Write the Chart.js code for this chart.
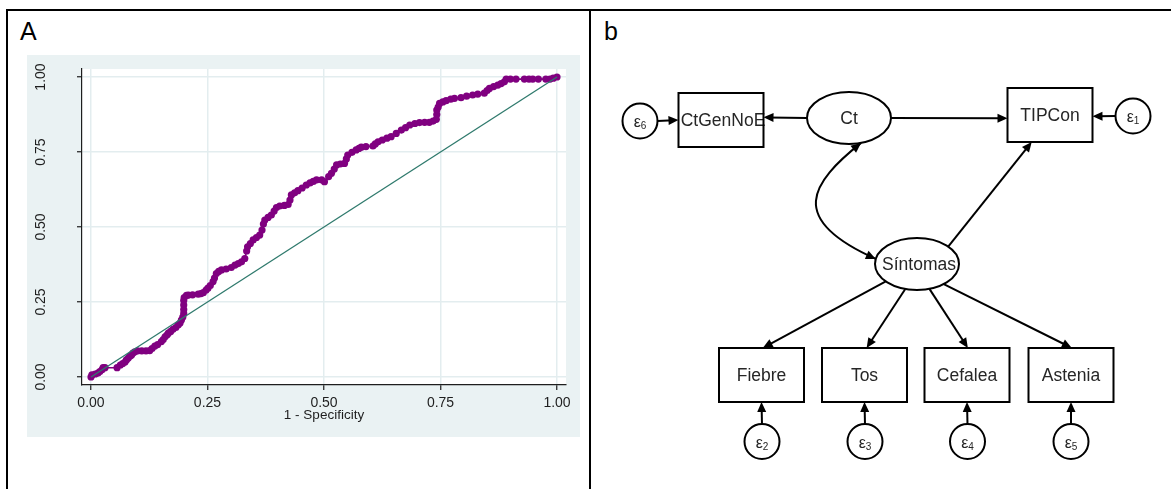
<!DOCTYPE html>
<html>
<head>
<meta charset="utf-8">
<script src="https://cdn.jsdelivr.net/npm/chart.js@4.4.1/dist/chart.umd.min.js"></script>
<style>
html,body{margin:0;padding:0;background:#fff;}
body{width:1171px;height:489px;position:relative;overflow:hidden;font-family:"Liberation Sans",Arial,sans-serif;}
.rule{position:absolute;background:#000;}
.tag{position:absolute;font-size:25px;line-height:25px;color:#000;}
#rocBox{position:absolute;left:27px;top:55px;width:553px;height:382px;background:#eaf2f3;}
#pathBox{position:absolute;left:591px;top:11px;width:580px;height:478px;}
canvas{display:block;}
</style>
</head>
<body>
<div class="rule" style="left:6px;top:9px;width:1165px;height:2px"></div>
<div class="rule" style="left:6px;top:9px;width:2px;height:480px"></div>
<div class="rule" style="left:589px;top:9px;width:2px;height:480px"></div>
<div class="tag" style="left:20px;top:19px">A</div>
<div class="tag" style="left:604px;top:19px">b</div>
<div id="rocBox"><canvas id="roc" width="553" height="382"></canvas></div>
<div id="pathBox"><canvas id="path" width="580" height="478"></canvas></div>

<script>
/* ---------- data: panel A, ROC curve ---------- */
const fpr  = [0,0.002,0.009,0.015,0.019,0.024,0.026,0.03,0.056,0.063,0.068,0.073,0.076,0.08,0.084,0.087,0.09,0.094,0.1,0.109,
  0.118,0.126,0.131,0.137,0.143,0.151,0.155,0.159,0.163,0.166,0.171,0.176,0.182,0.187,0.191,0.194,0.197,0.199,0.199,0.199,
  0.199,0.2,0.205,0.209,0.218,0.23,0.236,0.241,0.247,0.251,0.256,0.262,0.265,0.269,0.274,0.28,0.29,0.301,0.309,0.316,
  0.323,0.33,0.334,0.336,0.342,0.348,0.355,0.362,0.367,0.37,0.373,0.38,0.387,0.393,0.398,0.405,0.415,0.423,0.427,0.43,
  0.437,0.444,0.453,0.462,0.47,0.477,0.484,0.495,0.501,0.51,0.516,0.522,0.527,0.535,0.544,0.548,0.551,0.56,0.569,0.575,
  0.58,0.59,0.605,0.61,0.616,0.625,0.635,0.644,0.655,0.666,0.675,0.684,0.695,0.705,0.716,0.726,0.734,0.741,0.742,0.742,
  0.745,0.748,0.755,0.762,0.772,0.78,0.794,0.806,0.819,0.83,0.844,0.85,0.855,0.864,0.873,0.88,0.887,0.891,0.9,0.912,
  0.93,0.94,0.948,0.96,0.976,0.985,0.992,1];
const sens = [0,0.007,0.01,0.013,0.018,0.025,0.031,0.031,0.031,0.04,0.045,0.05,0.057,0.063,0.07,0.073,0.08,0.084,0.087,0.087,
  0.087,0.088,0.095,0.103,0.108,0.118,0.125,0.134,0.14,0.146,0.152,0.159,0.165,0.173,0.18,0.19,0.2,0.212,0.225,0.24,
  0.255,0.265,0.272,0.273,0.274,0.276,0.278,0.281,0.29,0.296,0.305,0.318,0.33,0.345,0.352,0.357,0.36,0.365,0.373,0.378,
  0.384,0.395,0.42,0.434,0.445,0.457,0.465,0.473,0.49,0.51,0.523,0.532,0.54,0.553,0.565,0.57,0.572,0.575,0.59,0.607,
  0.614,0.621,0.63,0.64,0.647,0.652,0.657,0.657,0.651,0.668,0.679,0.693,0.707,0.71,0.712,0.727,0.74,0.749,0.757,0.762,
  0.766,0.768,0.77,0.777,0.784,0.79,0.796,0.801,0.812,0.823,0.831,0.84,0.845,0.848,0.849,0.849,0.853,0.859,0.875,0.89,
  0.9,0.912,0.917,0.921,0.926,0.929,0.931,0.936,0.94,0.943,0.946,0.955,0.962,0.968,0.973,0.978,0.984,0.993,0.993,0.993,
  0.993,0.993,0.993,0.993,0.993,0.993,0.996,1];
const chanceX = [0, 1];
const chanceY = [0, 1];
const rocTicks = [0, 0.25, 0.5, 0.75, 1];
const xTitle = '1 - Specificity';

/* ---------- data: panel b, path diagram ---------- */
const nodeIds  = ['e6','CtGenNoE','Ct','TIPCon','e1','Sintomas','Fiebre','Tos','Cefalea','Astenia','e2','e3','e4','e5'];
const nodeText = ['ε6','CtGenNoE','Ct','TIPCon','ε1','Síntomas','Fiebre','Tos','Cefalea','Astenia','ε2','ε3','ε4','ε5'];
const nodeKind = ['err','box','oval','box','err','oval','box','box','box','box','err','err','err','err'];
const nodeX    = [640,721,849,1050,1133,917,761.5,864.5,967,1071,762,865,967.5,1071];
const nodeY    = [121,120,118,115,116,264,375,375,375,375,441.5,441.5,441.5,441.5];
const pathFrom = ['e6','Ct','Ct','e1','Sintomas','Sintomas','Sintomas','Sintomas','Sintomas','e2','e3','e4','e5'];
const pathTo   = ['CtGenNoE','CtGenNoE','TIPCon','TIPCon','TIPCon','Fiebre','Tos','Cefalea','Astenia','Fiebre','Tos','Cefalea','Astenia'];
const covPair  = ['Ct','Sintomas'];

/* ---------- look ---------- */
const FONT = '"Liberation Sans", Arial, sans-serif';
const INK = '#1e1e1e';
const SHAPE = {box:{w:85,h:54}, oval:{rx:42,ry:26}, err:{rx:17.5,ry:17.5}};
// where each path leaves / enters its nodes (unit offsets of the shape)
const ANCHOR = {
  'e6>CtGenNoE':[[1,0],[-1,0]],
  'Ct>CtGenNoE':[[-1,0],[1,-0.1]],
  'Ct>TIPCon':[[1,0],[-1,0.12]],
  'e1>TIPCon':[[-1,0],[1,0.05]],
  'Sintomas>TIPCon':[[0.81,-0.73],[-0.43,1]],
  'Sintomas>Fiebre':[[-0.81,0.73],[0.03,-1]],
  'Sintomas>Tos':[[-0.29,1],[0.05,-1]],
  'Sintomas>Cefalea':[[0.31,1],[0.02,-1]],
  'Sintomas>Astenia':[[0.67,0.81],[0.02,-1]],
  'cov':[[0.3,1],[-1,-0.2]]
};
const COV_BEND = [[-50,40],[-90,-40]];

/* ---------- panel A ---------- */
const whiteArea={
  id:'whiteArea',
  beforeDraw(c){const a=c.chartArea,x=c.ctx;x.save();x.fillStyle='#fff';x.fillRect(a.left,a.top,a.right-a.left,a.bottom-a.top);x.restore();}
};
const yLabels={
  id:'yLabels',
  afterDraw(c){
    const s=c.scales.y,x=c.ctx;
    x.save();x.fillStyle=INK;x.font=`14px ${FONT}`;x.textAlign='center';x.textBaseline='alphabetic';
    rocTicks.forEach(v=>{x.save();x.translate(18,s.getPixelForValue(v));x.rotate(-Math.PI/2);x.fillText(v.toFixed(2),0,0);x.restore();});
    x.restore();
  }
};
const fixTicks=s=>{s.ticks=rocTicks.map(v=>({value:v}));};
const gridOpt={color:'#e3edef',lineWidth:1.5,tickLength:5,tickColor:INK,tickWidth:1.2};

new Chart(document.getElementById('roc'),{
  type:'scatter',
  data:{datasets:[
    {data:chanceX.map((v,i)=>({x:v,y:chanceY[i]})),showLine:true,borderColor:'#2f7a6d',borderWidth:1.3,pointRadius:0},
    {data:fpr.map((v,i)=>({x:v,y:sens[i]})),showLine:true,borderColor:'#800080',borderWidth:1.6,
     pointRadius:3.6,pointBackgroundColor:'#800080',pointBorderWidth:0}
  ]},
  options:{
    responsive:false,animation:false,events:[],
    layout:{padding:{top:14,right:14,left:0,bottom:0}},
    plugins:{legend:{display:false},tooltip:{enabled:false}},
    scales:{
      x:{type:'linear',min:-0.0193,max:1.0193,afterBuildTicks:fixTicks,afterFit:s=>{s.height=52;},
         grid:gridOpt,border:{color:INK,width:1.2},
         ticks:{color:INK,font:{family:FONT,size:14},padding:5,maxRotation:0,autoSkip:false,callback:v=>v.toFixed(2)},
         title:{display:true,text:xTitle,color:INK,font:{family:FONT,size:13.5},padding:{top:0,bottom:14}}},
      y:{type:'linear',min:-0.0267,max:1.0267,afterBuildTicks:fixTicks,afterFit:s=>{s.width=55;},
         grid:gridOpt,border:{color:INK,width:1.2},ticks:{display:false}}
    }
  },
  plugins:[whiteArea,yLabels]
});

/* ---------- panel b ---------- */
function head(ctx,tx,ty,dx,dy){
  const L=Math.hypot(dx,dy),ux=dx/L,uy=dy/L,len=10,hw=4.5;
  ctx.beginPath();ctx.moveTo(tx,ty);
  ctx.lineTo(tx-ux*len-uy*hw,ty-uy*len+ux*hw);
  ctx.lineTo(tx-ux*len+uy*hw,ty-uy*len-ux*hw);
  ctx.closePath();ctx.fill();
}
const diagram={
  id:'diagram',
  afterDatasetsDraw(c){
    const ctx=c.ctx,sx=c.scales.x,sy=c.scales.y;
    const geo={};
    nodeIds.forEach((id,i)=>{geo[id]={cx:sx.getPixelForValue(nodeX[i]),cy:sy.getPixelForValue(nodeY[i]),kind:nodeKind[i],text:nodeText[i]};});
    const at=(g,u)=>{
      if(g.kind==='box') return [g.cx+u[0]*SHAPE.box.w/2,g.cy+u[1]*SHAPE.box.h/2];
      const s=SHAPE[g.kind],n=Math.hypot(u[0],u[1]);
      return [g.cx+u[0]/n*s.rx,g.cy+u[1]/n*s.ry];
    };
    ctx.save();
    ctx.strokeStyle='#000';ctx.fillStyle='#000';ctx.lineWidth=2;ctx.lineCap='butt';

    // straight paths
    pathFrom.forEach((f,i)=>{
      const t=pathTo[i],a=ANCHOR[f+'>'+t]||[[0,-1],[0,1]];
      const p=at(geo[f],a[0]),q=at(geo[t],a[1]);
      const dx=q[0]-p[0],dy=q[1]-p[1],L=Math.hypot(dx,dy);
      ctx.beginPath();ctx.moveTo(p[0],p[1]);ctx.lineTo(q[0]-dx/L*5,q[1]-dy/L*5);ctx.stroke();
      head(ctx,q[0],q[1],dx,dy);
    });

    // covariance
    const p0=at(geo[covPair[0]],ANCHOR.cov[0]),p3=at(geo[covPair[1]],ANCHOR.cov[1]);
    const p1=[p0[0]+COV_BEND[0][0],p0[1]+COV_BEND[0][1]],p2=[p3[0]+COV_BEND[1][0],p3[1]+COV_BEND[1][1]];
    ctx.beginPath();ctx.moveTo(p0[0],p0[1]);ctx.bezierCurveTo(p1[0],p1[1],p2[0],p2[1],p3[0],p3[1]);ctx.stroke();
    head(ctx,p0[0],p0[1],p0[0]-p1[0],p0[1]-p1[1]);
    head(ctx,p3[0],p3[1],p3[0]-p2[0],p3[1]-p2[1]);

    // nodes
    Object.values(geo).forEach(g=>{
      ctx.fillStyle='#fff';ctx.beginPath();
      if(g.kind==='box'){const s=SHAPE.box;ctx.rect(g.cx-s.w/2,g.cy-s.h/2,s.w,s.h);}
      else{const s=SHAPE[g.kind];ctx.ellipse(g.cx,g.cy,s.rx,s.ry,0,0,Math.PI*2);}
      ctx.fill();
      ctx.fillStyle='#262626';
      if(g.kind==='err'){
        const big=`16px ${FONT}`,small=`10px ${FONT}`;
        ctx.font=big;const w1=ctx.measureText(g.text[0]).width;
        ctx.font=small;const w2=ctx.measureText(g.text.slice(1)).width;
        const x0=g.cx-(w1+w2)/2;ctx.textAlign='left';ctx.textBaseline='alphabetic';
        ctx.font=big;ctx.fillText(g.text[0],x0,g.cy+6);
        ctx.font=small;ctx.fillText(g.text.slice(1),x0+w1,g.cy+8);
      }else{
        ctx.font=`17.5px ${FONT}`;ctx.textAlign='center';ctx.textBaseline='middle';
        ctx.fillText(g.text,g.cx+(g.text.length>7?2:0),g.cy+1);
      }
      ctx.stroke();
    });
    ctx.restore();
  }
};

new Chart(document.getElementById('path'),{
  type:'scatter',
  data:{datasets:[{data:nodeX.map((v,i)=>({x:v,y:nodeY[i]})),pointRadius:0}]},
  options:{
    responsive:false,animation:false,events:[],
    layout:{padding:0},
    plugins:{legend:{display:false},tooltip:{enabled:false}},
    scales:{
      x:{type:'linear',min:591,max:1171,display:false},
      y:{type:'linear',min:11,max:489,reverse:true,display:false}
    }
  },
  plugins:[diagram]
});
</script>
</body>
</html>
